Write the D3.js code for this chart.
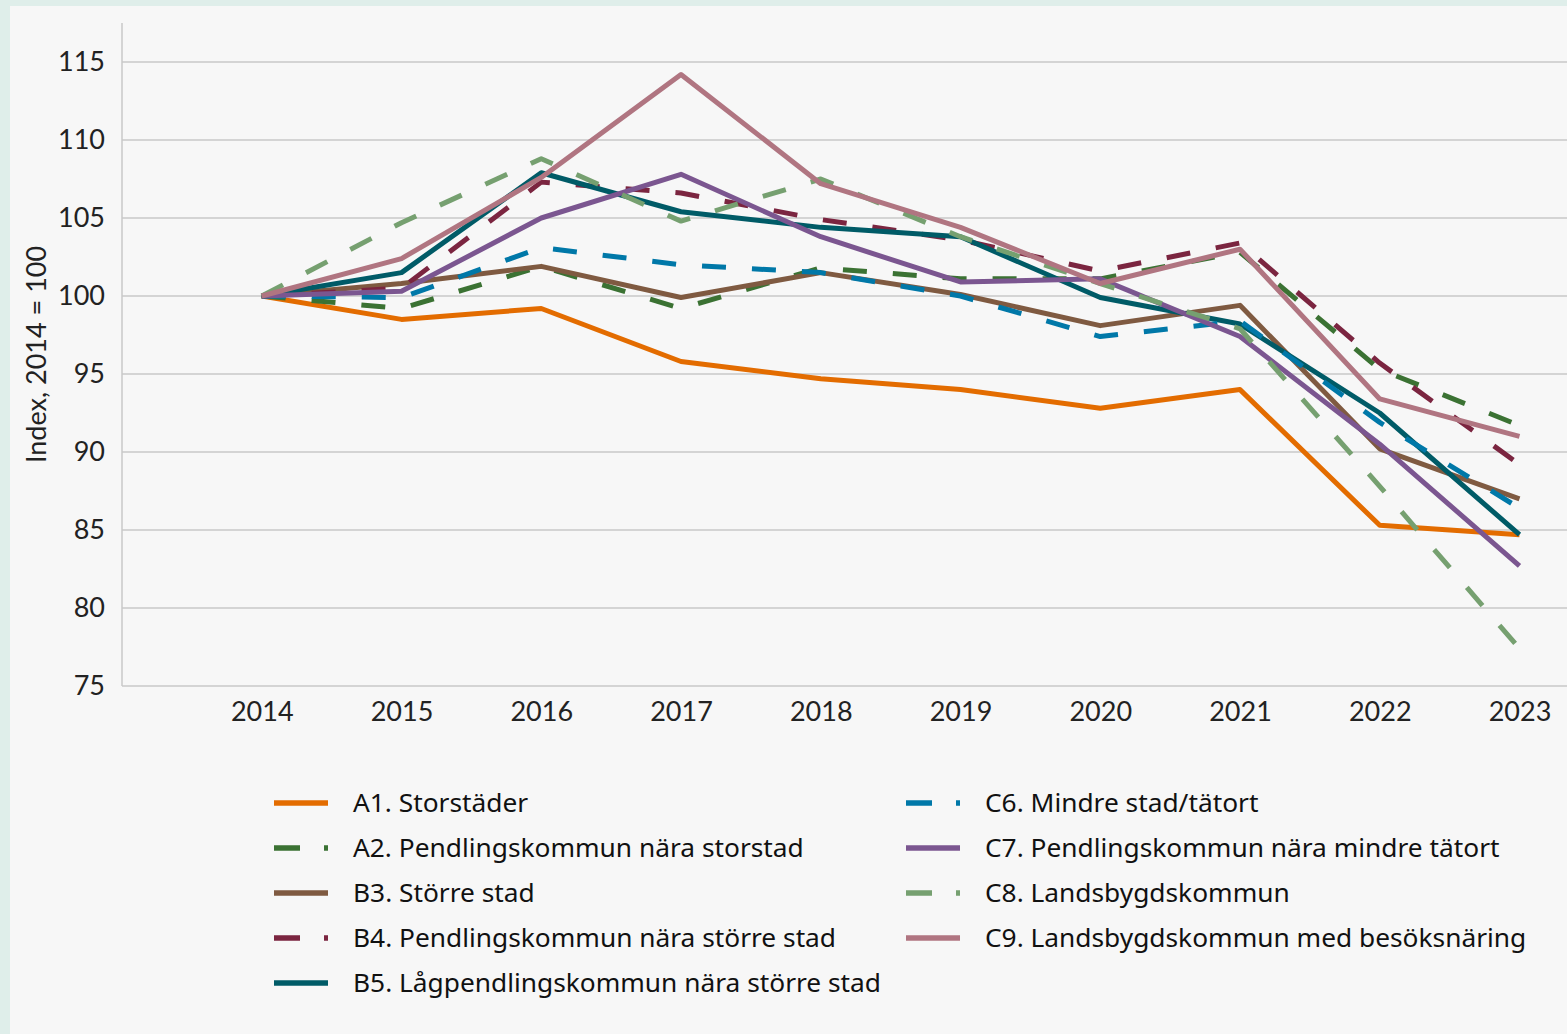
<!DOCTYPE html>
<html>
<head>
<meta charset="utf-8">
<script src="https://cdn.jsdelivr.net/npm/d3@7"></script>
<style>
  body { margin: 0; background: #dfeeea; }
  svg { display: block; font-family: Lato, "Noto Sans", sans-serif; }
</style>
</head>
<body>
<div class="chart"></div>
<script>
var years = [2014, 2015, 2016, 2017, 2018, 2019, 2020, 2021, 2022, 2023];
var yTicks = [75, 80, 85, 90, 95, 100, 105, 110, 115];

var seriesNames = [
    "A1. Storstäder",
    "A2. Pendlingskommun nära storstad",
    "B3. Större stad",
    "B4. Pendlingskommun nära större stad",
    "B5. Lågpendlingskommun nära större stad",
    "C6. Mindre stad/tätort",
    "C7. Pendlingskommun nära mindre tätort",
    "C8. Landsbygdskommun",
    "C9. Landsbygdskommun med besöksnäring"
];

var a1 = [100, 98.5, 99.2, 95.8, 94.7, 94.0, 92.8, 94.0, 85.3, 84.7];
var a2 = [100, 99.2, 101.9, 99.2, 101.8, 101.1, 101.1, 102.8, 95.3, 91.7];
var b3 = [100, 100.8, 101.9, 99.9, 101.5, 100.1, 98.1, 99.4, 90.2, 87.0];
var b4 = [100, 100.5, 107.3, 106.6, 104.9, 103.6, 101.6, 103.4, 95.7, 89.2];
var b5 = [100, 101.5, 107.9, 105.4, 104.4, 103.8, 99.9, 98.2, 92.5, 84.7];
var c6 = [100, 99.9, 103.1, 102.0, 101.5, 100.0, 97.4, 98.4, 91.9, 86.4];
var c7 = [100, 100.3, 105.0, 107.8, 103.8, 100.9, 101.1, 97.4, 90.5, 82.7];
var c8 = [100, 104.7, 108.8, 104.8, 107.5, 103.8, 100.8, 97.9, 87.8, 77.4];
var c9 = [100, 102.4, 107.6, 114.2, 107.2, 104.4, 100.8, 103.0, 93.4, 91.0];

var seriesValues = [a1, a2, b3, b4, b5, c6, c7, c8, c9];
var colors = ["#e36c00", "#3b7233", "#7f5a41", "#7b2540", "#005b67",
              "#0078a8", "#7b5690", "#76a070", "#b07581"];
var dashed = [false, true, false, true, false, true, false, true, false];

var svgWidth = 1567;
var svgHeight = 1034;

var svg = d3.select(".chart")
    .append("svg")
    .attr("width", svgWidth)
    .attr("height", svgHeight);

// light panel over the mint frame
svg.append("rect")
    .attr("x", 10)
    .attr("y", 6)
    .attr("width", svgWidth - 10)
    .attr("height", svgHeight - 6)
    .attr("fill", "#f7f7f7");

var plotLeft = 122;
var plotTop = 23;
var plotBottom = 686;

var xScale = d3.scaleLinear()
    .domain([2013, 2023.34])
    .range([plotLeft, svgWidth]);

var yScale = d3.scaleLinear()
    .domain([75, 117.5])
    .range([plotBottom, plotTop]);

// gridlines
svg.append("g")
    .selectAll("line")
    .data(yTicks)
    .enter()
    .append("line")
    .attr("x1", plotLeft)
    .attr("x2", svgWidth)
    .attr("y1", function(d) { return yScale(d); })
    .attr("y2", function(d) { return yScale(d); })
    .attr("stroke", "#c8c8c8")
    .attr("stroke-width", 1.5);

svg.append("line")
    .attr("x1", plotLeft)
    .attr("x2", plotLeft)
    .attr("y1", plotTop)
    .attr("y2", plotBottom)
    .attr("stroke", "#c8c8c8")
    .attr("stroke-width", 1.5);

// axes, text only
var leftAxis = d3.axisLeft(yScale).tickValues(yTicks).tickSize(0).tickPadding(17);
var bottomAxis = d3.axisBottom(xScale).tickValues(years).tickFormat(d3.format("d")).tickSize(0).tickPadding(16);

var gy = svg.append("g")
    .attr("transform", "translate(" + plotLeft + ",0)")
    .call(leftAxis);
var gx = svg.append("g")
    .attr("transform", "translate(0," + plotBottom + ")")
    .call(bottomAxis);

[gy, gx].forEach(function(g) {
    g.select(".domain").remove();
    g.selectAll("text")
        .attr("font-family", "Lato, sans-serif")
        .attr("font-size", 27)
        .attr("fill", "#222");
});

svg.append("text")
    .attr("transform", "translate(46," + ((plotTop + plotBottom) / 2) + ") rotate(-90)")
    .attr("text-anchor", "middle")
    .attr("font-size", 27)
    .attr("fill", "#222")
    .text("Index, 2014 = 100");

var line = d3.line()
    .x(function(d, i) { return xScale(years[i]); })
    .y(function(d) { return yScale(d); });

svg.append("g")
    .selectAll("path")
    .data(seriesValues)
    .enter()
    .append("path")
    .attr("d", line)
    .attr("fill", "none")
    .attr("stroke", function(d, i) { return colors[i]; })
    .attr("stroke-width", 5)
    .attr("stroke-linejoin", "round")
    .attr("stroke-dasharray", function(d, i) { return dashed[i] ? "24,26" : null; });

// legend, two columns
var legend = svg.append("g")
    .selectAll("g")
    .data(seriesNames)
    .enter()
    .append("g")
    .attr("transform", function(d, i) {
        var col = i < 5 ? 0 : 1;
        var row = i < 5 ? i : i - 5;
        return "translate(" + (col ? 906 : 274) + "," + (803 + row * 45) + ")";
    });

legend.append("line")
    .attr("x1", 0)
    .attr("x2", 54)
    .attr("stroke", function(d, i) { return colors[i]; })
    .attr("stroke-width", 5.5)
    .attr("stroke-dasharray", function(d, i) { return dashed[i] ? "26,24" : null; });

legend.append("text")
    .attr("x", 79)
    .attr("dy", "0.36em")
    .attr("font-family", "'Noto Sans', sans-serif")
    .attr("font-size", 26.3)
    .attr("fill", "#111")
    .text(function(d) { return d; });
</script>
</body>
</html>
